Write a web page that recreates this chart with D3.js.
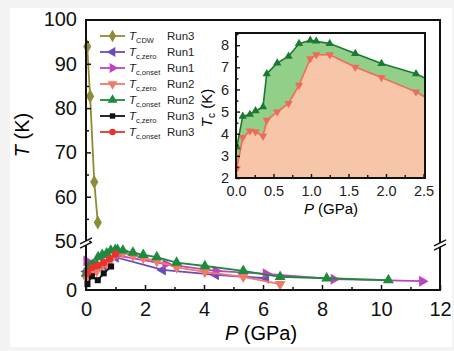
<!DOCTYPE html>
<html lang="en">
<head>
  <meta charset="UTF-8">
  <title>Tc vs P</title>
  <script src="https://cdn.jsdelivr.net/npm/d3@7"></script>
  <style>
    body { margin: 0; padding: 0; background: #f3f3f3; }
  </style>
</head>
<body>
  <div id="root"></div>
  <script>
    // ---- data ----
    const pCdw = [0.04, 0.14, 0.28, 0.40];
    const tCdw = [93.9, 82.7, 63.3, 54.2];

    const pZero1 = [0.02, 0.3, 0.6, 1.0, 2.6, 4.4, 6.1];
    const tZero1 = [3.8, 4.2, 5.0, 6.7, 4.1, 3.1, 2.4];

    const pOnset1 = [0.02, 0.3, 0.6, 1.0, 2.7, 4.4, 6.1, 8.4, 11.4];
    const tOnset1 = [5.9, 5.3, 5.8, 7.1, 5.3, 3.9, 3.3, 2.2, 1.8];

    const pZero2 = [0.01, 0.09, 0.185, 0.26, 0.36, 0.41, 0.55, 0.70, 0.84, 0.99, 1.07, 1.25, 1.59, 1.94, 2.40, 3.07, 4.03, 5.33, 6.58];
    const tZero2 = [2.43, 3.83, 4.13, 4.09, 3.89, 4.61, 4.99, 5.37, 6.19, 7.39, 7.57, 7.57, 7.01, 6.54, 5.89, 4.6, 3.7, 2.7, 1.2];

    const pOnset2 = [0.01, 0.09, 0.185, 0.26, 0.36, 0.41, 0.55, 0.70, 0.84, 0.99, 1.07, 1.25, 1.59, 1.94, 2.40, 3.07, 4.03, 5.33, 6.58, 8.16, 10.25];
    const tOnset2 = [3.4, 4.79, 4.87, 5.03, 5.21, 6.71, 7.19, 7.5, 8.07, 8.22, 8.18, 8.07, 7.62, 7.17, 6.71, 5.6, 4.9, 3.9, 2.7, 2.4, 2.0];

    const pZero3 = [0.05, 0.2, 0.4, 0.6, 0.85];
    const tZero3 = [1.2, 2.8, 2.0, 3.4, 4.8];

    const pOnset3 = [0.05, 0.2, 0.4, 0.6, 0.8, 1.0];
    const tOnset3 = [3.5, 4.6, 5.0, 5.6, 6.4, 7.3];

    const xTicks = [0, 2, 4, 6, 8, 10, 12];
    const yTicksHigh = [50, 60, 70, 80, 90, 100];
    const insetXTicks = [0, 0.5, 1.0, 1.5, 2.0, 2.5];
    const insetYTicks = [2, 3, 4, 5, 6, 7, 8];

    const zip = (ps, ts) => ps.map((p, i) => ({ p: p, t: ts[i] }));

    const series = [
      { sub: 'CDW', run: 'Run3', color: '#8e8c34', shape: 'diamond', data: zip(pCdw, tCdw) },
      { sub: 'c,zero', run: 'Run1', color: '#6b4cb8', shape: 'left', data: zip(pZero1, tZero1) },
      { sub: 'c,onset', run: 'Run1', color: '#c042c0', shape: 'right', data: zip(pOnset1, tOnset1) },
      { sub: 'c,zero', run: 'Run2', color: '#f07a6a', shape: 'down', data: zip(pZero2, tZero2) },
      { sub: 'c,onset', run: 'Run2', color: '#1e8a3c', shape: 'up', data: zip(pOnset2, tOnset2) },
      { sub: 'c,zero', run: 'Run3', color: '#111111', shape: 'square', data: zip(pZero3, tZero3) },
      { sub: 'c,onset', run: 'Run3', color: '#e8332c', shape: 'circle', data: zip(pOnset3, tOnset3) }
    ];

    const font = '"Liberation Sans", Arial, sans-serif';

    const svg = d3.create('svg')
      .attr('width', 454)
      .attr('height', 351)
      .style('display', 'block')
      .style('font-family', font);

    // white paper
    svg.append('rect').attr('x', 10).attr('y', 8).attr('width', 442).attr('height', 339).attr('fill', '#fff');

    // ---- main scales (broken y axis) ----
    const x = d3.scaleLinear().domain([0, 12]).range([86, 440]);
    const y = d3.scaleLinear().domain([0, 10, 50, 100]).range([290, 241, 241, 19.5]);

    const symbolFor = (shape, size) => {
      const map = {
        diamond: [d3.symbolDiamond, 0, 1.1],
        left: [d3.symbolTriangle, -90, 1],
        right: [d3.symbolTriangle, 90, 1],
        down: [d3.symbolTriangle, 180, 1],
        up: [d3.symbolTriangle, 0, 1],
        square: [d3.symbolSquare, 0, 0.7],
        circle: [d3.symbolCircle, 0, 0.8]
      };
      const m = map[shape];
      return { path: d3.symbol().type(m[0]).size(size * m[2])(), rot: m[1] };
    };

    const mainLine = d3.line().x(d => x(d.p)).y(d => y(d.t));

    const gMain = svg.append('g');
    series.forEach(s => {
      gMain.append('path')
        .attr('d', mainLine(s.data))
        .attr('fill', 'none')
        .attr('stroke', s.color)
        .attr('stroke-width', 1.8);
      const sym = symbolFor(s.shape, 52);
      gMain.append('g').selectAll('path')
        .data(s.data)
        .enter()
        .append('path')
        .attr('d', sym.path)
        .attr('transform', d => 'translate(' + x(d.p) + ',' + y(d.t) + ') rotate(' + sym.rot + ')')
        .attr('fill', s.color);
    });

    // ---- main axes ----
    svg.append('g')
      .attr('transform', 'translate(0,290)')
      .call(d3.axisBottom(x).tickValues(xTicks).tickSize(-5).tickSizeOuter(0).tickPadding(12).tickFormat(d3.format('d')));
    svg.append('g')
      .attr('transform', 'translate(0,290)')
      .call(d3.axisBottom(x).tickValues([1, 3, 5, 7, 9, 11]).tickSize(-3).tickSizeOuter(0).tickFormat(''));

    const yScaleHigh = d3.scaleLinear().domain([50, 100]).range([241, 19.5]);
    svg.append('g')
      .attr('transform', 'translate(86,0)')
      .call(d3.axisLeft(yScaleHigh).tickValues(yTicksHigh).tickSize(-5).tickSizeOuter(0).tickPadding(9));
    svg.append('g')
      .attr('transform', 'translate(86,0)')
      .call(d3.axisLeft(yScaleHigh).tickValues([55, 65, 75, 85, 95]).tickSize(-3).tickSizeOuter(0).tickFormat(''));
    // lower segment: only the zero label
    svg.append('text')
      .attr('x', 77).attr('y', y(0))
      .attr('dy', '0.35em')
      .attr('text-anchor', 'end')
      .attr('font-size', 20)
      .attr('fill', '#111')
      .text('0');

    svg.selectAll('.tick text').attr('font-size', 20).attr('font-family', font).attr('fill', '#111');
    svg.selectAll('.domain').attr('stroke', 'none');
    svg.selectAll('.tick line').attr('stroke', '#111').attr('stroke-width', 1.5);

    // frame
    svg.append('rect')
      .attr('x', 86).attr('y', 20).attr('width', 354).attr('height', 270)
      .attr('fill', 'none').attr('stroke', '#111').attr('stroke-width', 2);

    // axis breaks
    const drawBreak = (cx, cy) => {
      svg.append('rect').attr('x', cx - 3).attr('y', cy - 2).attr('width', 6).attr('height', 4).attr('fill', '#fff');
      [-2.2, 2.2].forEach(o => {
        svg.append('line')
          .attr('x1', cx - 6).attr('y1', cy + o + 3)
          .attr('x2', cx + 6).attr('y2', cy + o - 3)
          .attr('stroke', '#111').attr('stroke-width', 1.5);
      });
    };
    drawBreak(86, 243);
    drawBreak(440, 245);

    // axis titles
    const yTitle = svg.append('text')
      .attr('transform', 'translate(29,135) rotate(-90)')
      .attr('text-anchor', 'middle')
      .attr('font-size', 20);
    yTitle.append('tspan').attr('font-style', 'italic').text('T');
    yTitle.append('tspan').text(' (K)');

    const xTitle = svg.append('text')
      .attr('x', 261).attr('y', 340)
      .attr('text-anchor', 'middle')
      .attr('font-size', 20);
    xTitle.append('tspan').attr('font-style', 'italic').text('P');
    xTitle.append('tspan').text(' (GPa)');

    // ---- legend ----
    const legend = svg.append('g');
    series.forEach((s, i) => {
      const ly = 36 + i * 16;
      legend.append('line')
        .attr('x1', 100).attr('x2', 125).attr('y1', ly).attr('y2', ly)
        .attr('stroke', s.color).attr('stroke-width', 1.8);
      const sym = symbolFor(s.shape, 42);
      legend.append('path')
        .attr('d', sym.path)
        .attr('transform', 'translate(112.5,' + ly + ') rotate(' + sym.rot + ')')
        .attr('fill', s.color);
      const t = legend.append('text')
        .attr('x', 129).attr('y', ly + 4)
        .attr('font-size', 11.5)
        .attr('fill', '#222');
      t.append('tspan').attr('font-style', 'italic').text('T');
      t.append('tspan').attr('font-size', 7.5).attr('dy', 3).text(s.sub);
      legend.append('text')
        .attr('x', 167).attr('y', ly + 4)
        .attr('font-size', 11.5)
        .attr('fill', '#222')
        .text(s.run);
    });

    // ---- inset ----
    const ix = d3.scaleLinear().domain([0, 2.52]).range([236, 425]);
    const iy = d3.scaleLinear().domain([2, 8.55]).range([178, 33]);

    svg.append('clipPath').attr('id', 'inset-clip')
      .append('rect').attr('x', 236).attr('y', 33).attr('width', 189).attr('height', 145);

    const inset = svg.append('g').attr('clip-path', 'url(#inset-clip)');
    const run2 = pZero2.map((p, i) => ({ p: p, on: tOnset2[i], zero: tZero2[i] }));

    inset.append('path')
      .attr('d', d3.area().x(d => ix(d.p)).y0(iy(2)).y1(d => iy(d.zero))(run2))
      .attr('fill', '#f7c5a8');
    inset.append('path')
      .attr('d', d3.area().x(d => ix(d.p)).y0(d => iy(d.zero)).y1(d => iy(d.on))(run2))
      .attr('fill', '#92d08a');

    const insetSeries = [series[3], series[4]];
    insetSeries.forEach(s => {
      const lineColor = s.shape === 'up' ? '#1a7a30' : '#f06a5a';
      inset.append('path')
        .attr('d', d3.line().x(d => ix(d.p)).y(d => iy(d.t))(s.data))
        .attr('fill', 'none')
        .attr('stroke', lineColor)
        .attr('stroke-width', 1.6);
      const sym = symbolFor(s.shape, 30);
      inset.append('g').selectAll('path')
        .data(s.data)
        .enter()
        .append('path')
        .attr('d', sym.path)
        .attr('transform', d => 'translate(' + ix(d.p) + ',' + iy(d.t) + ') rotate(' + sym.rot + ')')
        .attr('fill', lineColor);
    });

    const insetAxes = svg.append('g');
    insetAxes.append('g')
      .attr('transform', 'translate(0,178)')
      .call(d3.axisBottom(ix).tickValues(insetXTicks).tickSize(-4).tickSizeOuter(0).tickPadding(8).tickFormat(d3.format('.1f')));
    insetAxes.append('g')
      .attr('transform', 'translate(0,178)')
      .call(d3.axisBottom(ix).tickValues([0.25, 0.75, 1.25, 1.75, 2.25]).tickSize(-3).tickSizeOuter(0).tickFormat(''));
    insetAxes.append('g')
      .attr('transform', 'translate(236,0)')
      .call(d3.axisLeft(iy).tickValues(insetYTicks).tickSize(-4).tickSizeOuter(0).tickPadding(7).tickFormat(d3.format('d')));
    insetAxes.append('g')
      .attr('transform', 'translate(236,0)')
      .call(d3.axisLeft(iy).tickValues([2.5, 3.5, 4.5, 5.5, 6.5, 7.5, 8.5]).tickSize(-2.5).tickSizeOuter(0).tickFormat(''));
    insetAxes.selectAll('.domain').attr('stroke', 'none');
    insetAxes.selectAll('.tick line').attr('stroke', '#111').attr('stroke-width', 1.4);
    insetAxes.selectAll('.tick text').attr('font-size', 14.5).attr('font-family', font).attr('fill', '#222');

    svg.append('rect')
      .attr('x', 236).attr('y', 33).attr('width', 189).attr('height', 145)
      .attr('fill', 'none').attr('stroke', '#111').attr('stroke-width', 2);

    const iyTitle = svg.append('text')
      .attr('transform', 'translate(212,108) rotate(-90)')
      .attr('text-anchor', 'middle')
      .attr('font-size', 15);
    iyTitle.append('tspan').attr('font-style', 'italic').text('T');
    iyTitle.append('tspan').attr('font-size', 10).attr('dy', 3).text('c');
    iyTitle.append('tspan').attr('dy', -3).text(' (K)');

    const ixTitle = svg.append('text')
      .attr('x', 331).attr('y', 214)
      .attr('text-anchor', 'middle')
      .attr('font-size', 15);
    ixTitle.append('tspan').attr('font-style', 'italic').text('P');
    ixTitle.append('tspan').text(' (GPa)');

    document.getElementById('root').append(svg.node());
  </script>
</body>
</html>
